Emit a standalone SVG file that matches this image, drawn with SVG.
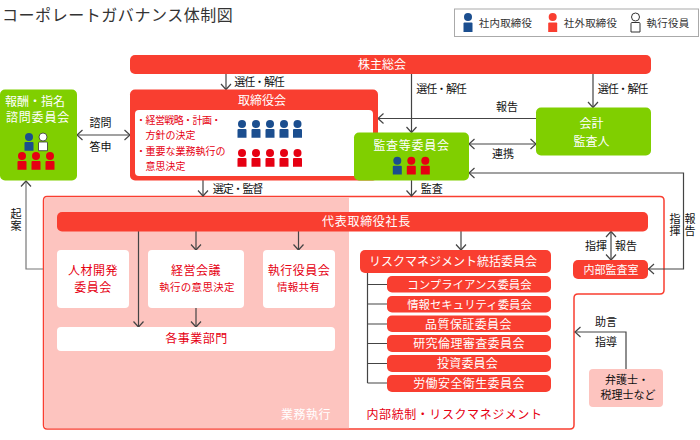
<svg xmlns="http://www.w3.org/2000/svg" width="700" height="440" viewBox="0 0 700 440">
<style>
text{font-family:"Noto Sans CJK JP","Noto Sans",sans-serif;text-anchor:middle}
.w{fill:#fff}.r{fill:#e60012}.k{fill:#111}
.f10{font-size:10px}.f11{font-size:11px}.f12{font-size:12px}.sp{letter-spacing:.5px}
.f105{font-size:10.500px;letter-spacing:.2px}
.v{writing-mode:vertical-rl;letter-spacing:1px}
.tight{letter-spacing:-1.100px}
.st{text-anchor:start}
.bar{fill:#f93e30}.grn{fill:#80cf00}.wb{fill:#fff}
.ln{fill:none;stroke:#444;stroke-width:1.200}
</style>
<defs>
<marker id="a" viewBox="0 0 12 12" refX="10.500" refY="6" markerWidth="12" markerHeight="12" markerUnits="userSpaceOnUse" orient="auto-start-reverse"><path d="M5 1L10.500 6L5 11" fill="none" stroke="#444" stroke-width="1.200"/></marker>
<g id="p"><circle cx="0" cy="4" r="4"/><path d="M-3.500 9.500H3.500Q4.500 9.500 4.500 10.500V19H-4.500V10.500Q-4.500 9.500 -3.500 9.500Z"/></g>
<g id="q"><circle cx="0" cy="4" r="4"/><path d="M-3.500 9H3.500Q4.500 9 4.500 10V17.700H-4.500V10Q-4.500 9 -3.500 9Z"/></g>
</defs>
<rect width="700" height="440" fill="#fff"/>
<text x="2" y="20.500" class="st" style="font-size:16px;letter-spacing:.55px" fill="#333">コーポレートガバナンス体制図</text>
<g id="legend">
<rect x="454.500" y="9" width="244" height="27.500" fill="#fff" stroke="#aaa"/>
<use href="#p" x="468" y="13" fill="#1b4e8f"/><text x="505.500" y="27" class="f105" fill="#333">社内取締役</text>
<use href="#p" x="552.700" y="13" fill="#f93e30"/><text x="590.500" y="27" class="f105" fill="#333">社外取締役</text>
<use href="#p" x="635.500" y="13" fill="#fff" stroke="#333"/><text x="668" y="27" class="f105" fill="#333">執行役員</text>
</g>
<g id="outer">
<path d="M47 196.500H660Q664 196.500 664 200.500V290Q664 294 660 294H578Q574 294 574 298V425Q574 429 570 429H47Q43.500 429 43.500 425V200.500Q43.500 196.500 47 196.500Z" fill="#fff" stroke="#f93e30" stroke-width="1.500"/>
<path d="M47 197.300H349V428.200H47Q44.300 428.200 44.300 425V200.500Q44.300 197.300 47 197.300Z" fill="#fdc4bf"/>
<text x="306" y="418.500" class="f12 w sp">業務執行</text>
<text x="454.500" y="418.500" class="f12 r" style="letter-spacing:.57px">内部統制・リスクマネジメント</text>
</g>
<g id="connectors">
<path class="ln" marker-end="url(#a)" d="M226 74V89.500"/>
<path class="ln" marker-end="url(#a)" d="M411.500 74V132.500"/>
<path class="ln" marker-end="url(#a)" d="M593 74V107.500"/>
<path class="ln" marker-end="url(#a)" d="M536 118.500H378"/>
<path class="ln" marker-start="url(#a)" marker-end="url(#a)" d="M469 144H536"/>
<path class="ln" marker-end="url(#a)" d="M411.500 180V196"/>
<path class="ln" marker-end="url(#a)" d="M203 180V196"/>
<path class="ln" marker-start="url(#a)" marker-end="url(#a)" d="M77 135H130"/>
<path class="ln" style="stroke:#777" marker-start="url(#a)" d="M26 181V269H43"/>
<path class="ln" marker-end="url(#a)" d="M354 151.500H315"/>
<path class="ln" marker-start="url(#a)" marker-end="url(#a)" d="M469 173H683.500V269H648.500"/>
<path class="ln" marker-end="url(#a)" d="M138.500 231V327"/>
<path class="ln" marker-end="url(#a)" d="M196 231V250"/>
<path class="ln" marker-end="url(#a)" d="M298.500 231V250"/>
<path class="ln" marker-end="url(#a)" d="M196 308V327"/>
<path class="ln" marker-end="url(#a)" d="M461 231V250"/>
<path class="ln" marker-start="url(#a)" marker-end="url(#a)" d="M611 231.500V260"/>
<path class="ln" marker-end="url(#a)" d="M626 369V332H575"/>
<path class="ln" d="M367.500 273V383M367.500 284.500H387M367.500 304H387M367.500 324H387M367.500 343.500H387M367.500 363.500H387M367.500 383H387"/>
<g class="k f11">
<text class="tight" x="259" y="86">選任・解任</text><text class="tight" x="441" y="93">選任・解任</text><text class="tight" x="622.500" y="93">選任・解任</text>
<text x="507" y="111">報告</text><text x="503" y="157.500">連携</text><text x="431.700" y="192.500">監査</text><text class="tight" x="237.500" y="192.500">選定・監督</text>
<text x="100.500" y="127">諮問</text><text x="100.500" y="151">答申</text><text x="329" y="170">監査など</text>
<text class="v" x="16" y="220">起案</text>
<text class="v" x="675" y="225.500">指揮</text><text class="v" x="690" y="225.500">報告</text>
<text x="596" y="249.500">指揮</text><text x="626" y="249.500">報告</text>
<text x="606" y="326">助言</text><text x="606" y="346">指導</text>
</g>
</g>
<g id="shareholders"><rect class="bar" x="130" y="55" width="521" height="19" rx="5"/><text class="f12 w" x="382" y="69">株主総会</text></g>
<g id="board">
<rect class="bar" x="130" y="89.500" width="248" height="91" rx="5"/>
<rect class="wb" x="135" y="110" width="238" height="66" rx="4"/>
<text class="f12 w" x="262" y="104.500">取締役会</text>
<g class="r f10">
<text x="141" y="124">・</text>
<text x="145.500" y="124" class="st" style="letter-spacing:-.6px">経営戦略・計画・</text>
<text x="145.500" y="139" class="st">方針の決定</text>
<text x="141" y="155">・</text>
<text x="145.500" y="155" class="st">重要な業務執行の</text>
<text x="145.500" y="170" class="st">意思決定</text>
</g>
<g fill="#1b4e8f"><use href="#q" x="242" y="120"/><use href="#q" x="256" y="120"/><use href="#q" x="270" y="120"/><use href="#q" x="284" y="120"/><use href="#q" x="297.500" y="120"/></g>
<g fill="#e60012"><use href="#q" x="242" y="149"/><use href="#q" x="256" y="149"/><use href="#q" x="270" y="149"/><use href="#q" x="284" y="149"/><use href="#q" x="297.500" y="149"/></g>
</g>
<g id="compensation">
<rect class="grn" x="0" y="89.500" width="77" height="91" rx="5"/>
<text class="f12 w" x="35" y="105.500">報酬・指名</text><text class="f12 w" style="letter-spacing:.8px" x="38" y="121.500">諮問委員会</text>
<use href="#q" x="29" y="133" fill="#1b4e8f"/><use href="#q" x="43" y="133" fill="#fff" stroke="#333" stroke-width=".8"/>
<g fill="#e60012"><use href="#q" x="22" y="152"/><use href="#q" x="36" y="152"/><use href="#q" x="50" y="152"/></g>
</g>
<g id="audit">
<rect class="grn" x="354" y="132.500" width="115" height="48" rx="5"/>
<text class="f12 w" style="letter-spacing:.7px" x="411.500" y="150">監査等委員会</text>
<use href="#q" x="397.300" y="156.700" fill="#1b4e8f"/><use href="#q" x="411.300" y="156.700" fill="#e60012"/><use href="#q" x="425.300" y="156.700" fill="#e60012"/>
</g>
<g id="accountant">
<rect class="grn" x="536" y="107.500" width="115" height="48" rx="5"/>
<text class="f12 w" x="591.500" y="128">会計</text><text class="f12 w" x="591.500" y="146">監査人</text>
</g>
<g id="president"><rect class="bar" x="57" y="212" width="591" height="19.500" rx="5"/><text class="f12 w" style="letter-spacing:.7px" x="366.500" y="226">代表取締役社長</text></g>
<g id="hr"><rect class="wb" x="57" y="250" width="72" height="58" rx="4"/><text class="f12 r sp" x="93" y="275">人材開発</text><text class="f12 r sp" x="93" y="292">委員会</text></g>
<g id="mgmt"><rect class="wb" x="148" y="250" width="96" height="58" rx="4"/><text class="f12 r sp" x="196" y="275">経営会議</text><text class="r f105" style="letter-spacing:.3px" x="197" y="291">執行の意思決定</text></g>
<g id="officers"><rect class="wb" x="263" y="250" width="72" height="58" rx="4"/><text class="f12 r sp" x="299" y="275">執行役員会</text><text class="r f105" style="letter-spacing:.3px" x="298.500" y="291">情報共有</text></g>
<g id="divisions"><rect class="wb" x="57" y="327" width="278" height="24" rx="4"/><text class="f12 r sp" x="196.500" y="343">各事業部門</text></g>
<g id="risk"><rect class="bar" x="360" y="250" width="191" height="23" rx="5"/><text class="f12 w" x="453" y="266">リスクマネジメント統括委員会</text></g>
<g id="compliance"><rect class="bar" x="387" y="276" width="164" height="16.500" rx="5"/><text class="w" style="font-size:11.400px" x="469.500" y="288.500">コンプライアンス委員会</text></g>
<g id="infosec"><rect class="bar" x="387" y="296" width="164" height="16.500" rx="5"/><text class="w" style="font-size:11.400px" x="469.500" y="308.500">情報セキュリティ委員会</text></g>
<g id="quality"><rect class="bar" x="387" y="315.500" width="164" height="16.500" rx="5"/><text class="f12 w" style="letter-spacing:.4px" x="468.500" y="328.500">品質保証委員会</text></g>
<g id="ethics"><rect class="bar" x="387" y="335" width="164" height="17" rx="5"/><text class="f12 w" style="letter-spacing:.4px" x="469" y="348">研究倫理審査委員会</text></g>
<g id="invest"><rect class="bar" x="387" y="355" width="164" height="17" rx="5"/><text class="f12 w" style="letter-spacing:.2px" x="467.500" y="368">投資委員会</text></g>
<g id="safety"><rect class="bar" x="387" y="375" width="164" height="17" rx="5"/><text class="f12 w" style="letter-spacing:.4px" x="469" y="388">労働安全衛生委員会</text></g>
<g id="internal"><rect class="bar" x="573" y="260" width="75" height="19" rx="5"/><text class="f11 w" x="611" y="273.500">内部監査室</text></g>
<g id="lawyers"><rect x="589" y="369" width="74" height="38" rx="4" fill="#fdc4bf"/><text class="f11" fill="#111" x="627" y="384">弁護士・</text><text class="f11" fill="#111" x="628" y="399">税理士など</text></g>
</svg>
